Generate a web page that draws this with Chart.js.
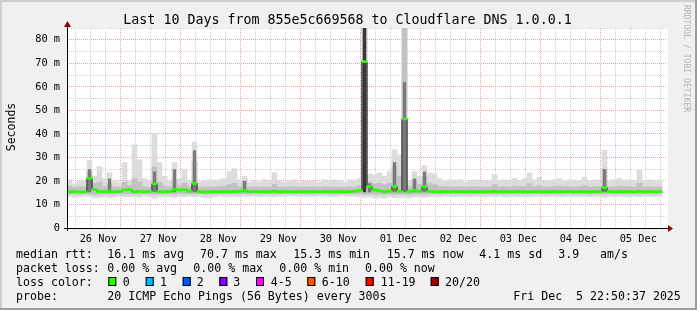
<!DOCTYPE html>
<html><head><meta charset="utf-8">
<script src="https://cdn.jsdelivr.net/npm/chart.js@4.4.0/dist/chart.umd.min.js"></script>
<style>html,body{margin:0;padding:0;background:#f0f0f0;}canvas{display:block;}</style>
</head><body>
<canvas id="c" width="697" height="310"></canvas>
<script>
// ---------------- DATA ----------------
const chartTitle = "Last 10 Days from 855e5c669568 to Cloudflare DNS 1.0.0.1";
const yAxisTitle = "Seconds";
const watermark = "RRDTOOL / TOBI OETIKER";
const dayLabels = ["26 Nov","27 Nov","28 Nov","29 Nov","30 Nov","01 Dec","02 Dec","03 Dec","04 Dec","05 Dec"];
const yLabelValues = [0,10,20,30,40,50,60,70,80];

// 2-hour bins across the 10-day window (ms)
const median = [
 15.4,15.4,15.3,15.4,21.1,16.3,15.5,15.5,15.6,15.4,15.5,16.2,
 16.3,15.4,15.5,15.4,15.5,18.8,15.5,15.4,15.5,16.4,16.2,16.3,
 15.6,19.0,15.4,15.3,15.4,15.5,15.4,15.5,15.4,15.5,15.6,16.0,
 15.4,15.5,15.4,15.4,15.5,15.6,15.4,15.5,15.4,15.4,15.5,15.4,
 15.4,15.5,15.4,15.5,15.4,15.4,15.5,15.4,15.5,15.6,16.0,70.7,
 17.7,16.2,15.8,15.5,15.6,17.7,15.6,46.4,15.5,16.0,15.6,17.5,
 15.6,15.5,15.4,15.5,15.4,15.5,15.4,15.4,15.5,15.4,15.5,15.4,
 15.5,15.6,15.4,15.5,15.4,15.4,15.5,15.4,15.4,15.5,15.4,15.5,
 15.4,15.5,15.4,15.4,15.5,15.4,15.5,15.4,15.4,15.5,15.4,17.2,
 15.5,15.4,15.5,15.4,15.5,15.4,15.6,15.4,15.5,15.4,15.5
];
const smokeMin = [
 13.4,13.0,13.3,13.5,13.4,12.8,13.0,13.3,12.9,13.3,13.5,13.2,
 13.3,13.4,13.0,13.5,13.3,12.6,13.2,13.4,13.3,13.0,13.4,13.3,
 13.5,13.3,13.4,13.0,12.9,13.3,13.5,13.4,13.2,13.4,13.3,13.5,
 13.4,13.6,13.3,13.5,13.4,13.3,13.5,13.4,13.6,13.5,13.4,13.5,
 13.5,13.4,13.6,13.5,13.4,13.3,13.5,13.6,13.4,13.5,13.3,13.0,
 13.2,12.8,13.0,12.7,13.3,12.9,13.0,13.1,12.8,13.2,13.3,13.0,
 13.3,13.4,13.2,13.5,13.4,13.3,13.5,13.4,13.3,13.5,13.4,13.3,
 13.4,13.3,13.5,13.2,13.4,13.5,13.3,13.4,13.2,13.4,13.5,13.3,
 13.4,13.5,13.3,13.4,13.5,13.3,13.4,13.5,13.3,13.4,13.5,13.0,
 13.4,13.3,13.5,13.4,13.2,13.4,13.3,13.5,13.4,13.3,13.5
];
const smokeMax = [
 20.5,18.8,19.8,19.8,28.6,22.0,26.0,21.0,23.5,20.0,19.5,27.8,
 20.0,35.4,29.0,21.0,20.0,40.0,27.8,22.0,20.0,27.8,21.0,25.0,
 20.0,36.5,19.5,20.0,20.5,20.0,20.5,21.0,24.0,25.2,20.5,22.0,
 19.5,20.0,19.5,20.5,20.0,23.5,20.0,19.5,20.0,20.5,19.5,20.0,
 19.8,20.0,19.5,20.5,20.0,20.5,20.0,19.5,20.5,20.0,21.0,90.0,
 23.0,22.5,23.4,22.0,24.0,33.3,31.0,90.0,20.0,24.0,22.0,26.5,
 23.5,23.0,21.0,20.0,20.5,20.0,20.5,19.5,20.0,20.5,20.0,20.0,
 20.0,22.7,20.0,20.5,20.0,21.0,20.0,21.0,23.4,20.5,21.5,20.0,
 20.0,20.5,21.0,20.0,20.5,20.0,20.0,21.5,20.0,20.5,20.0,33.0,
 20.0,20.5,21.0,20.0,20.5,20.0,24.5,20.0,20.5,20.0,20.5
];
const coreLow = [
 14.5,14.4,14.5,14.6,14.5,14.3,14.4,14.5,14.4,14.5,14.6,14.5,
 14.5,14.6,14.4,14.6,14.5,14.3,14.5,14.6,14.5,14.4,14.6,14.5,
 14.6,14.5,14.6,14.4,14.4,14.5,14.6,14.5,14.5,14.6,14.5,14.6,
 14.6,14.7,14.5,14.6,14.6,14.5,14.6,14.6,14.7,14.6,14.5,14.6,
 14.6,14.5,14.7,14.6,14.5,14.5,14.6,14.7,14.6,14.6,14.5,14.4,
 14.4,14.3,14.4,14.2,14.5,14.3,14.4,14.4,14.3,14.5,14.5,14.4,
 14.5,14.6,14.5,14.6,14.6,14.5,14.6,14.6,14.5,14.6,14.6,14.5,
 14.6,14.5,14.6,14.5,14.6,14.6,14.5,14.6,14.5,14.6,14.6,14.5,
 14.6,14.6,14.5,14.6,14.6,14.5,14.6,14.6,14.5,14.6,14.6,14.4,
 14.6,14.5,14.6,14.6,14.5,14.6,14.5,14.6,14.6,14.5,14.6
];
const coreHigh = [
 17.8,17.3,17.6,17.5,24.0,19.0,19.5,17.6,19.0,17.4,17.3,19.5,
 18.0,21.0,19.5,17.5,17.4,26.0,19.5,17.8,17.5,20.5,18.0,19.0,
 17.5,28.0,17.2,17.5,17.6,17.4,17.6,17.8,18.5,19.0,17.5,20.0,
 17.2,17.5,17.3,17.6,17.4,18.5,17.4,17.3,17.5,17.6,17.3,17.4,
 17.3,17.5,17.2,17.6,17.4,17.5,17.3,17.2,17.6,17.4,18.0,90.0,
 19.5,18.8,19.0,18.5,19.0,26.0,22.0,90.0,17.5,20.5,18.5,22.0,
 18.8,18.5,17.8,17.5,17.6,17.4,17.6,17.3,17.5,17.6,17.4,17.5,
 17.4,18.5,17.5,17.6,17.4,17.8,17.5,17.7,18.8,17.6,18.0,17.4,
 17.5,17.6,17.8,17.5,17.6,17.4,17.5,18.0,17.4,17.6,17.5,25.0,
 17.4,17.6,17.8,17.5,17.6,17.4,19.0,17.5,17.6,17.4,17.5
];
// dense (dark) smoke only where many pings were slow
const denseHigh = [
 null,null,null,null,25.0,null,null,null,21.0,null,null,null,
 null,null,null,null,null,24.0,null,null,null,25.0,null,null,
 null,33.0,null,null,null,null,null,null,null,null,null,20.0,
 null,null,null,null,null,null,null,null,null,null,null,null,
 null,null,null,null,null,null,null,null,null,null,null,90.0,
 19.0,null,null,null,null,28.0,null,62.0,null,21.0,null,24.0,
 null,null,null,null,null,null,null,null,null,null,null,null,
 null,null,null,null,null,null,null,null,null,null,null,null,
 null,null,null,null,null,null,null,null,null,null,null,25.0,
 null,null,null,null,null,null,null,null,null,null,null
];

const rttLegend = ["16.1 ms avg","70.7 ms max","15.3 ms min","15.7 ms now","4.1 ms sd","3.9","am/s"];
const lossLegend = ["0.00 % avg","0.00 % max","0.00 % min","0.00 % now"];
const lossColorLabels = ["0","1","2","3","4-5","6-10","11-19","20/20"];
const lossColors = ["#26ff00","#00b8ff","#0059ff","#7e00ff","#ff00ff","#ff5500","#ff0000","#a10000"];
const probeText = "20 ICMP Echo Pings (56 Bytes) every 300s";
const stampText = "Fri Dec  5 22:50:37 2025";

// ---------------- LAYOUT ----------------
const BIN_H = 2;                 // hours per bin
const xCenters = median.map((_, i) => BIN_H * i + BIN_H / 2);
const FONT = '"DejaVu Sans Mono", monospace';
const rttX = [107.3,200,293.3,386.7,479.3,558.3,600];
const lossX = [107.3,193.3,279.3,365];
const boxX = [108.3,145.7,182.7,219.3,256,307.3,365.7,430.7];
const boxLabelX = [122.7,160,196.7,233.3,270.7,321.7,380.7,445];
const MAJOR = '#f2a0a0', MINOR = '#d0d0d0';

function range(lo, hi) {
  const out = [];
  lo.forEach((l, i) => { if (l != null && hi[i] != null) out.push({x: xCenters[i], y: [l, hi[i]]}); });
  return out;
}
const denseLow = median.map((m, i) => denseHigh[i] == null ? null : 15.2);
const medBand = median.map((m, i) => ({x: xCenters[i], y: [m - 0.45, m + 0.45]}));

const xGridVals = []; for (let v = 0.5; v < 240; v += 6) xGridVals.push(v);
const isMidnight = v => Math.abs(((v - 0.5) % 24)) < 1e-6;
const noonLabel = v => { const k = (v - 12.5) / 24; return Number.isInteger(k) && dayLabels[k] ? dayLabels[k] : ''; };

const barBase = {type:'bar', grouped:false, barPercentage:1, categoryPercentage:1, borderWidth:0};

const framePlugin = {
  id: 'frame',
  beforeDraw(chart) {
    const c = chart.ctx, a = chart.chartArea;
    c.save();
    c.fillStyle = '#f0f0f0'; c.fillRect(0, 0, 697, 310);
    c.fillStyle = '#cfcfcf'; c.fillRect(0, 0, 697, 2); c.fillRect(0, 0, 2, 310);
    c.fillStyle = '#9e9e9e'; c.fillRect(0, 308, 697, 2); c.fillRect(695, 0, 2, 310);
    c.fillStyle = '#ffffff'; c.fillRect(a.left, a.top, a.right - a.left + 1, a.bottom - a.top);
    c.restore();
  },
  afterDraw(chart) {
    const c = chart.ctx, a = chart.chartArea;
    c.save();
    c.strokeStyle = '#000'; c.lineWidth = 1;
    c.beginPath();
    c.moveTo(a.left - 3, a.bottom + 0.5); c.lineTo(a.right + 2, a.bottom + 0.5);
    c.moveTo(a.left + 0.5, a.bottom + 3); c.lineTo(a.left + 0.5, a.top - 3);
    c.stroke();
    c.fillStyle = '#a00000';
    c.beginPath();
    c.moveTo(a.right + 1, a.bottom - 3); c.lineTo(a.right + 6, a.bottom + 0.5); c.lineTo(a.right + 1, a.bottom + 4); c.closePath(); c.fill();
    c.beginPath();
    c.moveTo(a.left - 3, a.top - 1); c.lineTo(a.left + 0.5, a.top - 7); c.lineTo(a.left + 4, a.top - 1); c.closePath(); c.fill();
    c.fillStyle = '#000';
    c.font = '13.3px ' + FONT; c.textAlign = 'center'; c.textBaseline = 'alphabetic';
    c.fillText(chartTitle, 347.5, 24);
    c.save(); c.translate(14.5, 127); c.rotate(-Math.PI / 2);
    c.font = '11.5px ' + FONT; c.textAlign = 'center'; c.fillText(yAxisTitle, 0, 0); c.restore();
    c.save(); c.translate(684, 5); c.rotate(Math.PI / 2);
    c.font = '8.1px ' + FONT; c.fillStyle = '#b4b4b4'; c.textAlign = 'left'; c.textBaseline = 'alphabetic';
    c.fillText(watermark, 0, 0); c.restore();
    c.font = '11.6px ' + FONT; c.textAlign = 'left'; c.fillStyle = '#000';
    c.fillText('median rtt:', 16, 258);
    rttLegend.forEach((t, i) => c.fillText(t, rttX[i], 258));
    c.fillText('packet loss:', 16, 272);
    lossLegend.forEach((t, i) => c.fillText(t, lossX[i], 272));
    c.fillText('loss color:', 16, 286);
    lossColorLabels.forEach((t, i) => {
      c.fillStyle = lossColors[i]; c.fillRect(boxX[i], 277, 8, 9);
      c.strokeStyle = '#000'; c.strokeRect(boxX[i] + 0.5, 277.5, 7, 8);
      c.fillStyle = '#000'; c.fillText(t, boxLabelX[i], 286);
    });
    c.fillText('probe:', 16, 300);
    c.fillText(probeText, 107.3, 300);
    c.fillText(stampText, 513.3, 300);
    c.restore();
  }
};

new Chart(document.getElementById('c'), {
  type: 'bar',
  data: {
    datasets: [
      Object.assign({}, barBase, {label:'median', data: medBand, backgroundColor:'#26ff00', order:0}),
      {type:'line', label:'median step', data: xCenters.map((x, i) => ({x, y: median[i]})), stepped:'middle',
       borderColor:'#000', borderWidth:1, pointRadius:0, fill:false, order:1},
      Object.assign({}, barBase, {label:'dense', data: range(denseLow, denseHigh), barPercentage:0.65,
        backgroundColor: ctx => (ctx.raw && ctx.raw.y && ctx.raw.y[1] > 80) ? '#383838' : '#7a7a7a', order:2}),
      Object.assign({}, barBase, {label:'core', data: range(coreLow, coreHigh), backgroundColor:'#c2c2c2', order:3}),
      Object.assign({}, barBase, {label:'smoke', data: range(smokeMin, smokeMax), backgroundColor:'#dcdcdc', order:4})
    ]
  },
  options: {
    responsive:false, animation:false, devicePixelRatio:1,
    layout:{padding:{left:0, right:30, top:28, bottom:62}},
    plugins:{legend:{display:false}, tooltip:{enabled:false}, title:{display:false}},
    scales:{
      x:{type:'linear', min:0, max:240, offset:false,
         afterBuildTicks: s => { s.ticks = xGridVals.map(v => ({value:v})); },
         afterFit: s => { s.height = 20; },
         ticks:{autoSkip:false, maxRotation:0, minRotation:0, padding:5, color:'#000',
                font:{family:'DejaVu Sans Mono', size:10.3}, callback: v => noonLabel(v)},
         grid:{drawTicks:false, lineWidth:1,
               color: ctx => (ctx.tick && isMidnight(ctx.tick.value)) ? MAJOR : MINOR},
         border:{display:false, dash:[1,1]}},
      y:{min:0, max:85,
         afterBuildTicks: s => { const t = []; for (let v = 0; v <= 85; v += 5) t.push({value:v}); s.ticks = t; },
         afterFit: s => { s.width = 67; },
         ticks:{autoSkip:false, padding:7, color:'#000', font:{family:'DejaVu Sans Mono', size:10.3},
                callback: v => yLabelValues.includes(v) ? (v === 0 ? '0' : v + ' m') : ''},
         grid:{drawTicks:false, lineWidth:1,
               color: ctx => (ctx.tick && ctx.tick.value % 10 === 0) ? MAJOR : MINOR},
         border:{display:false, dash:[1,1]}}
    }
  },
  plugins:[framePlugin]
});
</script>
</body></html>
